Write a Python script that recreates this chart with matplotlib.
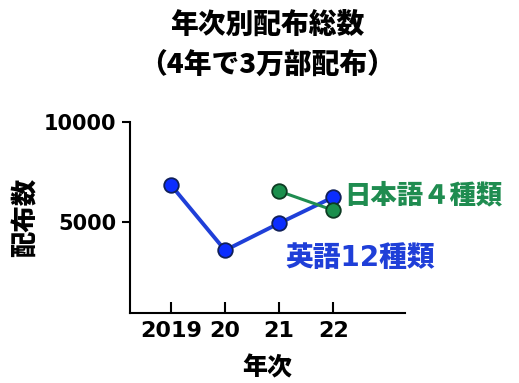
import matplotlib.pyplot as plt

plt.rcParams['font.family'] = ['Noto Sans CJK JP', 'DejaVu Sans']
plt.rcParams['font.weight'] = 'heavy'

years = ['2019', '20', '21', '22']
english = [6850, 3600, 4950, 6250]   # 英語12種類
japanese = [6550, 5600]              # 日本語4種類 (21, 22)
japanese_x = [2, 3]

num_font = ['DejaVu Sans', 'Noto Sans CJK JP']

fig = plt.figure(figsize=(5.19, 3.83), dpi=100)
ax = fig.add_axes([130/519, 1 - 312.7/383, (405 - 130)/519, (312.7 - 122)/383])

ax.plot(range(len(english)), english, color='#1f3fd8', lw=2.8, marker='o', ms=10.5,
        markerfacecolor='#0b2dff', markeredgecolor='#10205a', markeredgewidth=1.3, zorder=3)
ax.plot(japanese_x, japanese, color='#1f8c50', lw=2.2, marker='o', ms=10.5,
        markerfacecolor='#1a8f4c', markeredgecolor='#0d3b22', markeredgewidth=1.3, zorder=4)

ax.text(3.2, 6350, '日本語４種類', color='#1f8c50', fontsize=19, fontweight='heavy',
        va='center', ha='left')
ax.text(2.12, 3200, '英語12種類', color='#1f3fd8', fontsize=20, fontweight='heavy',
        va='center', ha='left', family=num_font)

ax.set_xlim(-0.76, 4.33)
ax.set_ylim(490, 10000)
ax.set_xticks(range(len(years)))
ax.set_xticklabels(years)
ax.set_yticks([5000, 10000])
ax.set_yticklabels(['5000', '10000'])

for s in ['top', 'right']:
    ax.spines[s].set_visible(False)
for s in ['left', 'bottom']:
    ax.spines[s].set_linewidth(1.5)

ax.tick_params(axis='x', direction='in', length=8, width=1.5, labelsize=16, pad=6)
ax.tick_params(axis='y', direction='out', length=6, width=1.5, labelsize=15, pad=4)
for lab in ax.get_xticklabels() + ax.get_yticklabels():
    lab.set_fontweight('bold')
    lab.set_family(num_font)

ax.set_xlabel('年次', fontsize=18, fontweight='heavy', labelpad=10)
ax.set_ylabel('配布数', fontsize=19, fontweight='heavy')
ax.yaxis.set_label_coords(-0.33, 0.5)

fig.text(0.515, 0.937, '年次別配布総数', ha='center', va='center', fontsize=20, fontweight='heavy')
fig.text(0.515, 0.83, '（4年で3万部配布）', ha='center', va='center', fontsize=20, fontweight='heavy')

fig.savefig('out.png', dpi=100)
